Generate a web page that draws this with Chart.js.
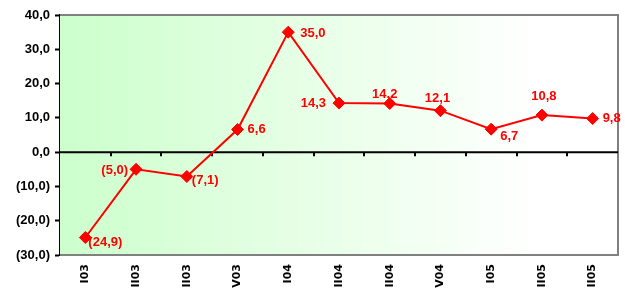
<!DOCTYPE html>
<html>
<head>
<meta charset="utf-8">
<script src="https://cdn.jsdelivr.net/npm/chart.js@4"></script>
<style>
  html, body { margin: 0; padding: 0; background: #fff; overflow: hidden; }
  #wrap { width: 625px; height: 288px; }
</style>
</head>
<body>
<div id="wrap"><canvas id="chart"></canvas></div>
<script>
// dados
const quarters = ['I03', 'II03', 'III03', 'IV03', 'I04', 'II04', 'III04', 'IV04', 'I05', 'II05', 'III05'];
const values = [-24.9, -5.0, -7.1, 6.6, 35.0, 14.3, 14.2, 12.1, 6.7, 10.8, 9.8];
const yTicks = [-30, -20, -10, 0, 10, 20, 30, 40];

// posição dos rótulos (só estilo)
const labelPos = [
  { align: 'left', dx: 3, dy: 5 },
  { align: 'right', dx: -8, dy: 1 },
  { align: 'left', dx: 5, dy: 4 },
  { align: 'left', dx: 10, dy: 0 },
  { align: 'left', dx: 12, dy: 1 },
  { align: 'right', dx: -13, dy: 0 },
  { align: 'center', dx: -5, dy: -9 },
  { align: 'center', dx: -3, dy: -12 },
  { align: 'left', dx: 9, dy: 7 },
  { align: 'center', dx: 2, dy: -19 },
  { align: 'left', dx: 10, dy: 0 }
];

function fmt(v) {
  const s = Math.abs(v).toFixed(1).replace('.', ',');
  return v < 0 ? '(' + s + ')' : s;
}

const frame = {
  id: 'frame',
  beforeDatasetsDraw(chart) {
    const { ctx, chartArea: a, scales } = chart;
    ctx.save();
    const g = ctx.createLinearGradient(a.left, 0, a.right, 0);
    g.addColorStop(0, '#ccffcc');
    g.addColorStop(0.85, '#ffffff');
    g.addColorStop(1, '#ffffff');
    ctx.fillStyle = g;
    ctx.fillRect(a.left, a.top, a.right - a.left, a.bottom - a.top);
    ctx.strokeStyle = '#808080';
    ctx.lineWidth = 2;
    ctx.beginPath();
    ctx.moveTo(a.left, a.top); ctx.lineTo(a.right, a.top);
    ctx.lineTo(a.right, a.bottom); ctx.lineTo(a.left, a.bottom);
    ctx.stroke();
    // linha do zero
    const y0 = scales.y.getPixelForValue(0);
    ctx.strokeStyle = '#000';
    ctx.beginPath();
    ctx.moveTo(a.left, y0); ctx.lineTo(a.right, y0);
    ctx.stroke();
    const step = (a.right - a.left) / quarters.length;
    for (let i = 1; i < quarters.length; i++) {
      const x = Math.round(a.left + step * i);
      ctx.beginPath();
      ctx.moveTo(x, y0); ctx.lineTo(x, y0 + 4);
      ctx.stroke();
    }
    ctx.restore();
  },
  afterDatasetsDraw(chart) {
    const { ctx } = chart;
    const pts = chart.getDatasetMeta(0).data;
    ctx.save();
    ctx.font = 'bold 13px "Liberation Sans", Arial, sans-serif';
    ctx.fillStyle = '#ff0000';
    ctx.textBaseline = 'middle';
    pts.forEach((p, i) => {
      const pos = labelPos[i];
      ctx.textAlign = pos.align;
      ctx.fillText(fmt(values[i]), p.x + pos.dx, p.y + pos.dy);
    });
    ctx.restore();
  }
};

new Chart(document.getElementById('chart'), {
  type: 'line',
  data: {
    labels: quarters,
    datasets: [{
      data: values,
      borderColor: '#ff0000',
      borderWidth: 2,
      backgroundColor: '#ff0000',
      pointStyle: 'rectRot',
      pointRadius: 6,
      pointBorderWidth: 1,
      tension: 0
    }]
  },
  options: {
    responsive: true,
    maintainAspectRatio: false,
    animation: false,
    layout: { padding: { top: 15, right: 1, left: 0, bottom: 0 } },
    plugins: { legend: { display: false }, tooltip: { enabled: false } },
    scales: {
      x: {
        offset: true,
        grid: { display: false, drawTicks: false },
        border: { display: false },
        ticks: {
          color: '#000',
          font: { family: '"DejaVu Sans"', size: 11, weight: 'bold' },
          minRotation: 90, maxRotation: 90, padding: 9, autoSkip: false
        },
        afterFit(s) { s.height = 33; }
      },
      y: {
        min: -30, max: 40,
        afterBuildTicks(s) { s.ticks = yTicks.map(v => ({ value: v })); },
        grid: { drawOnChartArea: false, tickLength: 5, tickColor: '#000', tickWidth: 2 },
        border: { color: '#000', width: 2 },
        ticks: {
          color: '#000',
          padding: 5,
          font: { family: '"Liberation Sans", Arial', size: 13, weight: 'bold' },
          callback: v => fmt(v)
        },
        afterFit(s) { s.width = 60; }
      }
    }
  },
  plugins: [frame]
});
</script>
</body>
</html>
